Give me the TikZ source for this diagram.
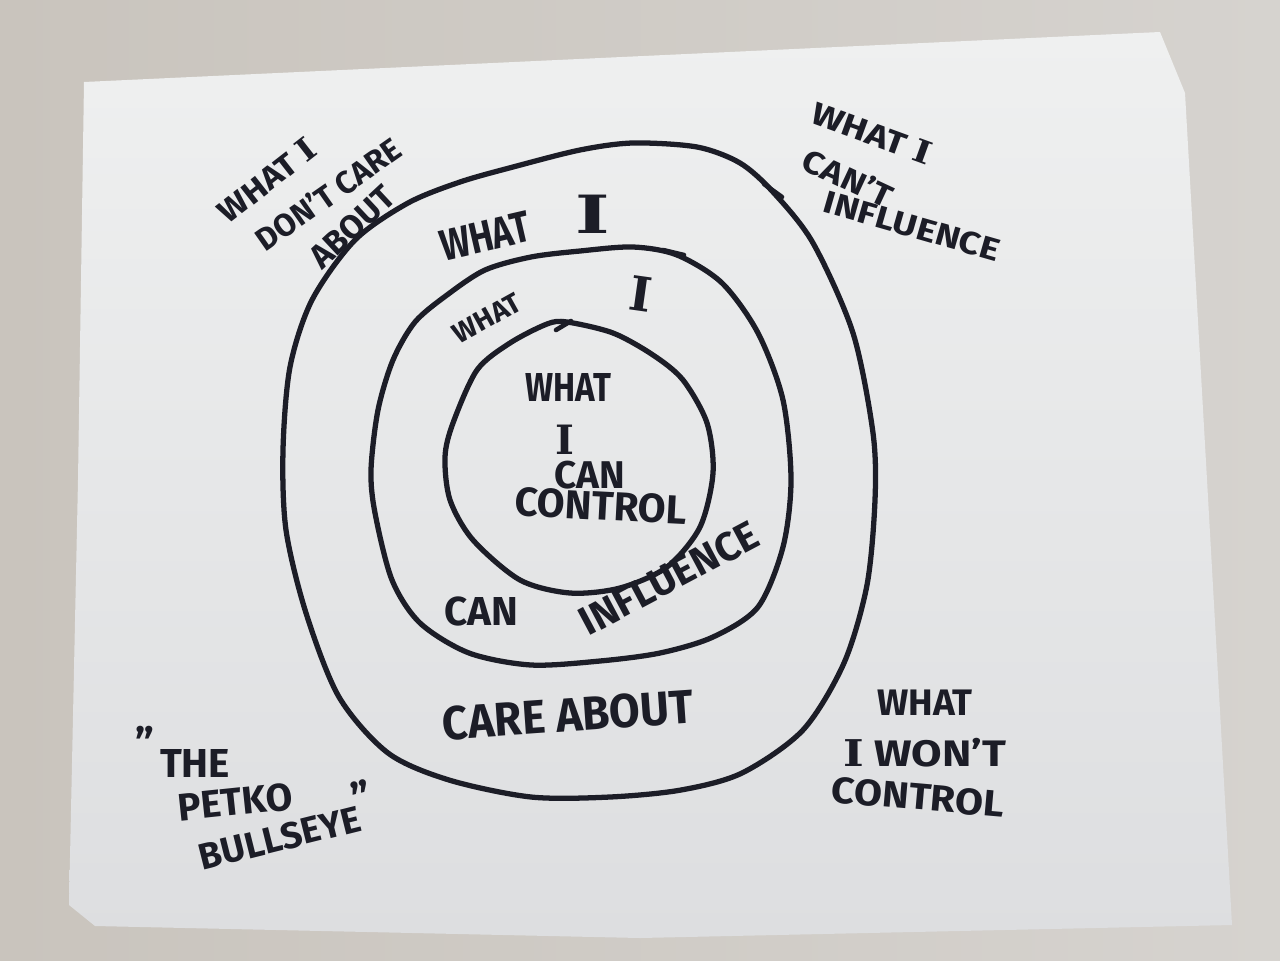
\documentclass[tikz,border=0pt]{standalone}
\usepackage{fontspec}
\setmainfont{Fira Sans}
\newfontfamily\ifont{DejaVu Serif}
\newcommand\fsz[1]{\fontsize{#1pt}{#1pt}\selectfont}
\definecolor{inkc}{HTML}{1C1D27}
\definecolor{bgL}{HTML}{C9C4BD}
\definecolor{bgR}{HTML}{D6D3CF}
\definecolor{paperT}{HTML}{EFF0F0}
\definecolor{paperB}{HTML}{DDDEE0}
\begin{document}
\begin{tikzpicture}[x=0.02cm,y=-0.02cm,
  ink/.style={text=inkc,inner sep=0pt,font=\bfseries\fsz{#1}},
  ring/.style={draw=inkc,line width=3pt,line join=round,line cap=round},
  tick/.style={draw=inkc,line width=2.6pt,line cap=round}]
\useasboundingbox (0,0) rectangle (1280,960);
\shade[left color=bgL,right color=bgR] (0,0) rectangle (1280,960);
% paper sheet
\shade[top color=paperT,bottom color=paperB]
  (84,82) -- (1160,32) -- (1185,93) -- (1207,480) -- (1232,925)
  -- (640,938) -- (95,926) -- (69,905) -- (78,480) -- cycle;
% rings
\draw[ring] plot[smooth cycle] coordinates {
  (355,240) (408,203) (460,182) (513,167) (580,150) (633,143) (697,147)
  (740,163) (773,192) (813,243) (853,333) (873,433) (875,500) (867,585)
  (844,663) (803,730) (742,773) (681,790) (610,797) (531,797) (449,780)
  (388,753) (339,697) (306,613) (286,530) (283,450) (290,367) (312,300)};
\draw[ring] plot[smooth cycle] coordinates {
  (531,257) (580,251) (633,247) (677,255) (722,283) (758,333) (783,400)
  (791,480) (783,547) (758,607) (713,637) (660,653) (600,661) (531,665)
  (469,653) (420,623) (392,580) (375,513) (371,470) (378,410) (393,360)
  (415,322) (447,295) (485,270)};
\draw[ring] plot[smooth cycle] coordinates {
  (477,370) (510,343) (547,324) (567,322) (613,333) (653,355) (683,380)
  (707,423) (713,473) (700,527) (667,567) (620,588) (570,593) (520,580)
  (473,540) (450,500) (445,457) (453,423)};
% pen-start ticks
\coordinate (t1a) at (764,184); \coordinate (t1b) at (782,197);
\coordinate (t2a) at (663,250); \coordinate (t2b) at (684,255);
\coordinate (t3a) at (556,330); \coordinate (t3b) at (571,321);
\draw[tick] (t1a) -- (t1b);
\draw[tick] (t2a) -- (t2b);
\draw[tick] (t3a) -- (t3b);
% inner circle text
\node[ink=23,xscale=0.82] (c1) at (568,387) {WHAT};
\node[ink=23] (c2) at (565,440) {\ifont I};
\node[ink=22] (c3) at (590,475) {CAN};
\node[ink=23,rotate=-3] (c4) at (601,506) {CONTROL};
% middle ring text
\node[ink=16,rotate=29] (m1) at (487,318) {WHAT};
\node[ink=27,rotate=-8] (m2) at (641,294) {\ifont I};
\node[ink=23] (m3) at (481,611) {CAN};
\node[ink=23,rotate=28] (m4) at (669,578) {INFLUENCE};
% outer ring text
\node[ink=25,rotate=13,xscale=0.8] (o1) at (485,236) {WHAT};
\node[ink=30,xscale=1.4] (o2) at (593,214) {\ifont I};
\node[ink=27,rotate=4,xscale=0.94] (o3) at (568,715) {CARE ABOUT};
% top-left
\node[ink=18,rotate=38,xscale=1.1] (a1) at (267,180) {WHAT {\ifont I}};
\node[ink=18,rotate=35] (a2) at (328,194) {DON'T CARE};
\node[ink=19,rotate=43] (a3) at (352,227) {ABOUT};
% top-right
\node[ink=18,rotate=-20,xscale=1.2] (b1) at (872,133) {WHAT {\ifont I}};
\node[ink=18,rotate=-25,xscale=1.15] (b2) at (848,178) {CAN'T};
\node[ink=18,rotate=-16,xscale=1.18] (b3) at (912,226) {INFLUENCE};
% bottom-right
\node[ink=21] (d1) at (925,703) {WHAT};
\node[ink=21,xscale=1.2] (d2) at (925,753) {{\ifont I} WON'T};
\node[ink=21,rotate=-5,xscale=1.1] (d3) at (918,797) {CONTROL};
% bottom-left
\node[ink=24] (e0) at (145,742) {"};
\node[ink=23] (e1) at (195,763) {THE};
\node[ink=22,rotate=6] (e2) at (235,802) {PETKO};
\node[ink=21,rotate=14] (e3) at (280,838) {BULLSEYE};
\node[ink=24,rotate=14] (e4) at (362,797) {"};
\end{tikzpicture}
\end{document}
